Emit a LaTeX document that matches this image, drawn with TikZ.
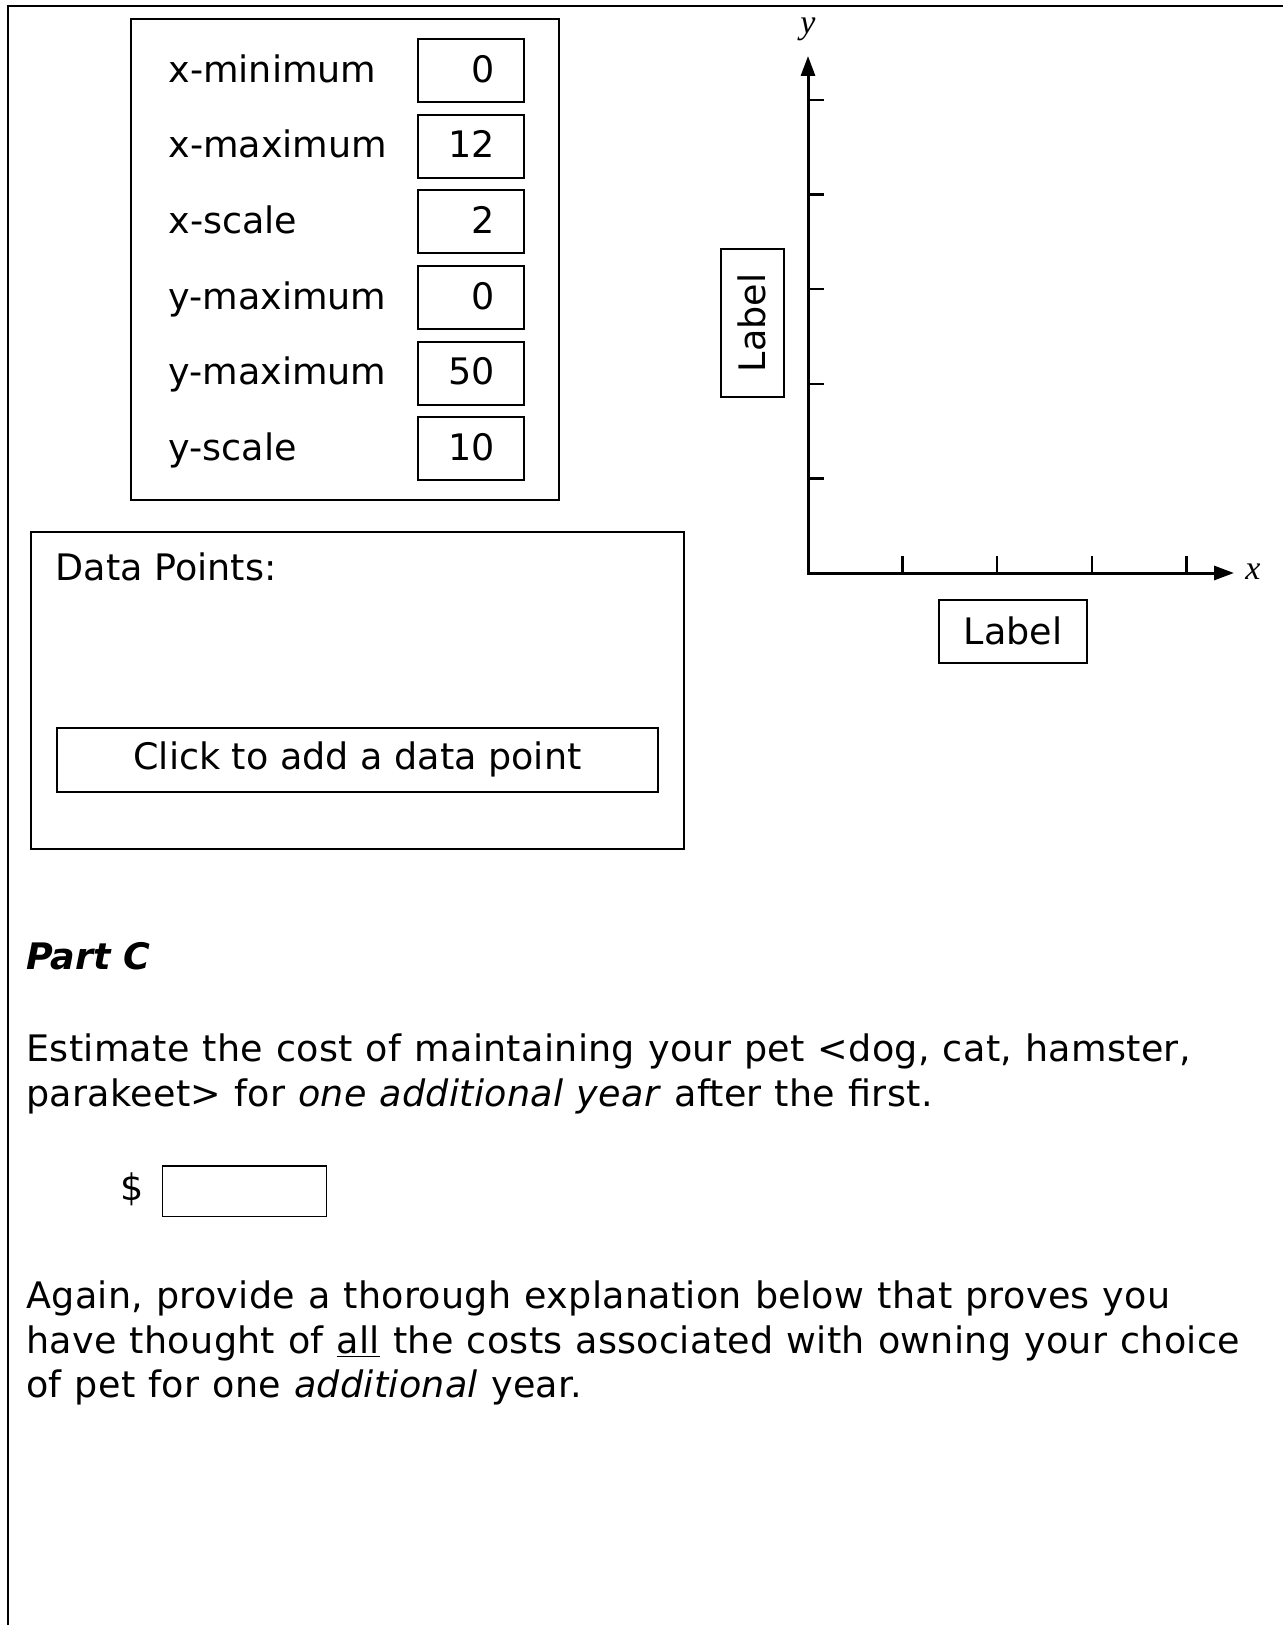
\documentclass[tikz,border=0pt]{standalone}
\usepackage{fontspec}
\setmainfont{DejaVu Sans}
\newfontfamily\parafont{DejaVu Sans}[WordSpace=1.1, LetterSpace=0.8]
\newfontfamily\axisfont{Liberation Serif}
\usepackage{tikz}
\usetikzlibrary{arrows.meta, positioning, calc}

\newcommand{\basefont}{\fontsize{18.25}{22.3}\selectfont}

\tikzstyle{panel} = [rectangle, draw=black, line width=1pt, inner sep=0pt]
\tikzstyle{valbox} = [rectangle, draw=black, line width=1pt, minimum width=53pt, minimum height=31.5pt, text width=24pt, align=right, inner xsep=14.5pt, inner ysep=0pt, text height=14.6pt, text depth=3.1pt]
\tikzstyle{rowlabel} = [anchor=west, inner sep=0pt, text height=14.6pt, text depth=3.1pt]
\tikzstyle{labelbox} = [rectangle, draw=black, line width=1pt, minimum width=74pt, minimum height=31.5pt]
\tikzstyle{axes} = [line width=1.5pt, {Triangle[length=10pt,width=7pt]}-{Triangle[length=10pt,width=7pt]}]
\tikzstyle{tick} = [line width=1.2pt]
\tikzstyle{para} = [anchor=north west, align=left, inner sep=0pt, font={\parafont\basefont}]

\begin{document}
\begin{tikzpicture}[x=0.5pt, y=-0.5pt, every node/.style={font=\basefont}]
\useasboundingbox (0,0) rectangle (1283,1625);

% frame
\draw [line width=1pt] (8.3,1625) -- (8.3,6.2) -- (1283,6.2);

% window settings
\node (settings) [panel, minimum width=214pt, minimum height=240.75pt] at (344.6,259.75) {};
\coordinate (lcol) at (168,0);
\node (xmin) [valbox] at (470.5,70.8) {0};
\node (xmax) [valbox, below=5.3pt of xmin] {12};
\node (xscl) [valbox, below=5.3pt of xmax] {2};
\node (ymin) [valbox, below=5.3pt of xscl] {0};
\node (ymax) [valbox, below=5.3pt of ymin] {50};
\node (yscl) [valbox, below=5.3pt of ymax] {10};
\node (lxmin) [rowlabel] at (xmin.west -| lcol) {x-minimum};
\node (lxmax) [rowlabel] at (xmax.west -| lcol) {x-maximum};
\node (lxscl) [rowlabel] at (xscl.west -| lcol) {x-scale};
\node (lymin) [rowlabel] at (ymin.west -| lcol) {y-maximum};
\node (lymax) [rowlabel] at (ymax.west -| lcol) {y-maximum};
\node (lyscl) [rowlabel] at (yscl.west -| lcol) {y-scale};

% data points
\node (datapanel) [panel, minimum width=326.7pt, minimum height=158.7pt] at (357.7,690.3) {};
\node (datalabel) [anchor=base west, inner sep=0pt] at (55.4,580) {Data Points:};
\node (addbtn) [panel, minimum width=300.25pt, minimum height=32pt] at (357.4,759.7) {Click to add a data point};

% graph
\coordinate (origin) at (808,573);
\coordinate (ytip) at (808,56);
\coordinate (xtip) at (1234,573);
\draw [axes] (ytip) -- (origin) -- (xtip);
\foreach \k in {1,...,5}
  \draw [tick] ($(origin)+(0,-94.6*\k)$) -- ++(16,0);
\foreach \k in {1,...,4}
  \draw [tick] ($(origin)+(94.6*\k,0)$) -- ++(0,-17);
\node (ylab) [font=\axisfont\itshape\fontsize{17}{17}\selectfont] at (808,29) {y};
\node (xlab) [font=\axisfont\itshape\fontsize{17}{17}\selectfont] at (1253,572) {x};
\node (ylabelbox) [labelbox, rotate=90] at (752,323) {Label};
\node (xlabelbox) [labelbox] at (1013,631) {Label};

% part c
\node (partc) [anchor=base west, inner sep=0pt, font={\basefont\bfseries\itshape}] at (26,969) {Part C};
\node (estimate) [para] at (26,1033.3) {Estimate the cost of maintaining your pet <dog, cat, hamster,\\parakeet> for \textit{one additional year} after the first.};
\node (dollar) at (131.7,1189) {\$};
\node (costbox) [draw=black, line width=0.6pt, minimum width=82.2pt, minimum height=25.25pt, inner sep=0pt] at (244.5,1191.2) {};
\node (explain) [para] at (26,1280.3) {Again, provide a thorough explanation below that proves you\\have thought of \underline{all} the costs associated with owning your choice\\of pet for one \textit{additional} year.};

\end{tikzpicture}
\end{document}
